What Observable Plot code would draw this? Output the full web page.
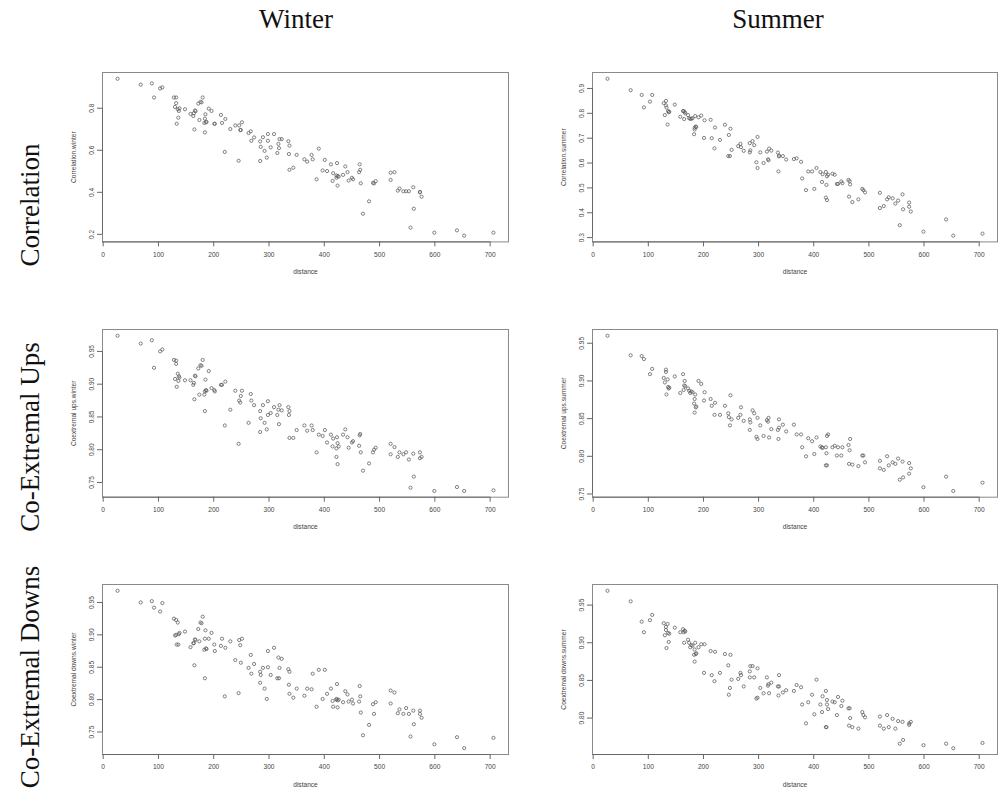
<!DOCTYPE html>
<html><head><meta charset="utf-8">
<script src="https://cdn.jsdelivr.net/npm/d3@7"></script>
<script src="https://cdn.jsdelivr.net/npm/@observablehq/plot@0.6"></script>
<style>
body{margin:0;background:#fff;}
#fig{position:relative;width:1002px;height:803px;overflow:hidden;background:#fff;}
</style></head><body><div id="fig"></div>
<script>
// ---- data ----
const seasons = ["Winter", "Summer"];
const measures = ["Correlation", "Co-Extremal Ups", "Co-Extremal Downs"];
const yLabels = ["Correlation.winter", "Correlation.summer", "Coextremal ups.winter", "Coextremal ups.summer", "Coextremal downs.winter", "Coextremal downs.summer"];
const xTicks = [0, 100, 200, 300, 400, 500, 600, 700];
const corrTicksW = [0.2, 0.4, 0.6, 0.8];
const corrTicksS = [0.3, 0.4, 0.5, 0.6, 0.7, 0.8, 0.9];
const extTicks = [0.75, 0.80, 0.85, 0.90, 0.95];
const extTicksDS = [0.80, 0.85, 0.90, 0.95];

const distance = [26,68,88,92,103,107,128,130,132,132,133,135,136,137,138,148,158,163,164,165,166,167,172,174,176,178,180,183,184,184,185,186,187,191,196,201,202,213,215,220,221,230,239,245,246,248,249,251,263,267,268,273,284,284,285,289,292,296,298,298,303,309,315,317,318,319,323,335,336,337,337,344,350,364,369,377,379,386,390,397,401,405,412,415,416,422,422,423,424,424,426,434,438,442,444,450,452,463,464,465,466,470,481,488,490,493,520,520,527,533,536,543,548,553,556,561,562,573,573,576,599,640,653,706];

const corrWinter = [0.940,0.912,0.918,0.851,0.894,0.899,0.851,0.806,0.851,0.824,
 0.726,0.795,0.755,0.787,0.800,0.795,0.773,0.763,0.776,0.699,
 0.789,0.786,0.822,0.744,0.830,0.828,0.851,0.730,0.750,0.685,
 0.771,0.733,0.735,0.798,0.787,0.726,0.726,0.768,0.730,0.592,
 0.749,0.701,0.718,0.550,0.718,0.696,0.696,0.733,0.682,0.690,
 0.645,0.661,0.549,0.642,0.616,0.662,0.597,0.565,0.645,0.677,
 0.614,0.677,0.587,0.630,0.610,0.653,0.653,0.643,0.582,0.507,
 0.622,0.517,0.578,0.557,0.546,0.578,0.557,0.462,0.608,0.504,
 0.554,0.501,0.533,0.454,0.491,0.480,0.469,0.539,0.477,0.432,
 0.475,0.483,0.523,0.496,0.456,0.469,0.462,0.496,0.533,0.507,
 0.443,0.298,0.357,0.445,0.442,0.453,0.493,0.459,0.496,0.408,
 0.418,0.405,0.405,0.405,0.232,0.424,0.322,0.402,0.400,0.379,
 0.208,0.219,0.194,0.208];

const corrSummer = [0.939,0.893,0.874,0.824,0.847,0.874,0.841,0.793,0.850,0.832,
 0.823,0.755,0.809,0.804,0.806,0.835,0.786,0.809,0.809,0.777,
 0.805,0.800,0.793,0.780,0.778,0.778,0.780,0.716,0.735,0.742,
 0.789,0.747,0.745,0.784,0.791,0.701,0.772,0.774,0.700,0.659,
 0.743,0.693,0.754,0.628,0.713,0.628,0.738,0.653,0.668,0.677,
 0.664,0.649,0.643,0.680,0.651,0.688,0.672,0.603,0.580,0.705,
 0.643,0.600,0.646,0.615,0.611,0.658,0.650,0.642,0.566,0.627,
 0.630,0.628,0.614,0.616,0.619,0.605,0.538,0.491,0.566,0.566,
 0.496,0.580,0.564,0.524,0.555,0.564,0.461,0.512,0.547,0.451,
 0.553,0.557,0.553,0.516,0.516,0.526,0.519,0.532,0.465,0.527,
 0.514,0.443,0.454,0.496,0.491,0.482,0.480,0.419,0.427,0.454,
 0.462,0.458,0.437,0.449,0.350,0.474,0.414,0.441,0.424,0.405,
 0.324,0.373,0.308,0.316];

const upsWinter = [0.974,0.962,0.967,0.925,0.950,0.953,0.937,0.908,0.936,0.931,
 0.896,0.916,0.905,0.912,0.910,0.906,0.906,0.899,0.902,0.877,
 0.913,0.912,0.924,0.884,0.929,0.928,0.937,0.884,0.889,0.859,
 0.907,0.891,0.890,0.920,0.894,0.891,0.889,0.899,0.899,0.837,
 0.904,0.861,0.890,0.809,0.875,0.872,0.882,0.890,0.841,0.885,
 0.875,0.868,0.827,0.859,0.848,0.868,0.841,0.831,0.853,0.874,
 0.856,0.865,0.853,0.861,0.839,0.868,0.860,0.865,0.853,0.818,
 0.859,0.818,0.830,0.837,0.829,0.837,0.830,0.796,0.823,0.821,
 0.830,0.811,0.823,0.805,0.817,0.802,0.789,0.819,0.810,0.778,
 0.805,0.823,0.831,0.819,0.803,0.811,0.813,0.806,0.822,0.824,
 0.796,0.768,0.779,0.796,0.800,0.803,0.809,0.793,0.804,0.789,
 0.796,0.793,0.796,0.785,0.742,0.794,0.759,0.796,0.787,0.789,
 0.737,0.743,0.737,0.738];

const upsSummer = [0.960,0.934,0.933,0.929,0.909,0.916,0.904,0.898,0.915,0.912,
 0.882,0.902,0.892,0.890,0.891,0.906,0.884,0.909,0.888,0.894,
 0.900,0.893,0.890,0.887,0.884,0.886,0.885,0.870,0.858,0.876,
 0.882,0.865,0.866,0.900,0.896,0.874,0.885,0.876,0.867,0.855,
 0.871,0.855,0.867,0.857,0.852,0.841,0.881,0.849,0.851,0.855,
 0.865,0.847,0.835,0.849,0.845,0.861,0.857,0.826,0.851,0.823,
 0.841,0.827,0.848,0.846,0.851,0.825,0.836,0.835,0.823,0.849,
 0.838,0.842,0.833,0.842,0.829,0.829,0.812,0.800,0.824,0.820,
 0.803,0.825,0.813,0.812,0.811,0.812,0.788,0.804,0.827,0.788,
 0.829,0.812,0.814,0.801,0.812,0.801,0.812,0.815,0.790,0.808,
 0.823,0.789,0.787,0.801,0.801,0.792,0.794,0.784,0.782,0.800,
 0.788,0.792,0.790,0.797,0.769,0.793,0.772,0.791,0.777,0.784,
 0.759,0.773,0.754,0.765];

const downsWinter = [0.968,0.950,0.952,0.942,0.936,0.949,0.925,0.899,0.923,0.900,
 0.885,0.919,0.885,0.901,0.903,0.905,0.881,0.887,0.887,0.853,
 0.893,0.892,0.909,0.890,0.919,0.918,0.928,0.877,0.894,0.833,
 0.907,0.879,0.878,0.894,0.903,0.885,0.875,0.883,0.894,0.805,
 0.880,0.890,0.861,0.810,0.892,0.884,0.857,0.894,0.849,0.869,
 0.840,0.855,0.826,0.843,0.838,0.849,0.817,0.801,0.850,0.875,
 0.838,0.880,0.833,0.865,0.833,0.849,0.863,0.847,0.823,0.809,
 0.843,0.803,0.817,0.806,0.817,0.816,0.840,0.789,0.846,0.801,
 0.846,0.809,0.817,0.798,0.789,0.800,0.801,0.824,0.799,0.788,
 0.800,0.796,0.813,0.808,0.797,0.800,0.794,0.797,0.821,0.805,
 0.780,0.745,0.761,0.793,0.778,0.796,0.814,0.794,0.811,0.779,
 0.785,0.778,0.787,0.778,0.743,0.783,0.762,0.783,0.778,0.772,
 0.731,0.742,0.725,0.741];

const downsSummer = [0.969,0.955,0.928,0.914,0.930,0.937,0.926,0.910,0.921,0.917,
 0.893,0.925,0.913,0.901,0.912,0.920,0.914,0.918,0.914,0.900,
 0.916,0.915,0.904,0.900,0.894,0.897,0.896,0.884,0.875,0.891,
 0.900,0.885,0.886,0.894,0.898,0.860,0.898,0.889,0.857,0.849,
 0.888,0.860,0.885,0.870,0.831,0.840,0.884,0.851,0.852,0.860,
 0.857,0.842,0.862,0.854,0.869,0.869,0.854,0.826,0.827,0.866,
 0.840,0.833,0.854,0.843,0.845,0.833,0.847,0.842,0.830,0.842,
 0.857,0.834,0.837,0.836,0.844,0.841,0.818,0.793,0.821,0.831,
 0.805,0.851,0.818,0.808,0.829,0.836,0.788,0.788,0.824,0.818,
 0.812,0.822,0.821,0.804,0.828,0.816,0.823,0.813,0.790,0.813,
 0.800,0.788,0.786,0.808,0.804,0.801,0.802,0.790,0.786,0.804,
 0.788,0.799,0.786,0.796,0.766,0.795,0.771,0.791,0.793,0.795,
 0.764,0.766,0.760,0.767];

// ---- layout ----
const fig = document.getElementById("fig");
const colLeft = [102, 592];
const colWidth = [406, 405];
const rowTop = [72.3, 329, 584.3];
const rowHeight = [169.4, 167.7, 170];
const panels = [
  {values: corrWinter, label: yLabels[0], ticks: corrTicksW, fmt: ".1f", col: 0, row: 0},
  {values: corrSummer, label: yLabels[1], ticks: corrTicksS, fmt: ".1f", col: 1, row: 0},
  {values: upsWinter, label: yLabels[2], ticks: extTicks, fmt: ".2f", col: 0, row: 1},
  {values: upsSummer, label: yLabels[3], ticks: extTicks, fmt: ".2f", col: 1, row: 1},
  {values: downsWinter, label: yLabels[4], ticks: extTicks, fmt: ".2f", col: 0, row: 2},
  {values: downsSummer, label: yLabels[5], ticks: extTicksDS, fmt: ".2f", col: 1, row: 2}
];

const pad4 = ([a, b]) => [a - (b - a) * 0.04, b + (b - a) * 0.04];
const xDomain = pad4(d3.extent(distance));
const mL = 52, mR = 4, mT = 8, mB = 40;
const axisColor = "#666", textColor = "#444", fs = 6.6;

for (const p of panels) {
  const data = distance.map((d, i) => ({distance: d, value: p.values[i]}));
  const yDomain = pad4(d3.extent(p.values));
  const fmt = d3.format(p.fmt);
  const w = colWidth[p.col], h = rowHeight[p.row];
  const chart = Plot.plot({
    width: mL + w + mR, height: mT + h + mB,
    marginLeft: mL, marginRight: mR, marginTop: mT, marginBottom: mB,
    style: {background: "transparent", fontFamily: "'Liberation Sans', Arial, sans-serif", overflow: "visible"},
    x: {domain: xDomain},
    y: {domain: yDomain},
    marks: [
      Plot.frame({stroke: "#8a8a8a", strokeWidth: 1}),
      Plot.ruleY([yDomain[0]], {x1: () => xTicks[0], x2: () => xTicks[xTicks.length - 1], stroke: axisColor}),
      Plot.ruleX([xDomain[0]], {y1: () => p.ticks[0], y2: () => p.ticks[p.ticks.length - 1], stroke: axisColor}),
      Plot.axisX({ticks: xTicks, tickSize: 5, tickPadding: 5, fontSize: fs, label: null, stroke: axisColor, fill: textColor, tickFormat: d3.format("d")}),
      Plot.axisY({ticks: p.ticks, tickSize: 5, tickFormat: () => "", label: null, stroke: axisColor}),
      Plot.text(p.ticks, {y: d => d, text: d => fmt(d), frameAnchor: "left", dx: -9, rotate: -90, textAnchor: "middle", lineAnchor: "bottom", fontSize: fs, fill: textColor}),
      Plot.text([p.label], {text: d => d, frameAnchor: "left", dx: -26.5, rotate: -90, textAnchor: "middle", lineAnchor: "bottom", fontSize: fs, fill: textColor}),
      Plot.text(["distance"], {text: d => d, frameAnchor: "bottom", dy: 32, lineAnchor: "bottom", fontSize: fs, fill: textColor}),
      Plot.dot(data, {x: "distance", y: "value", r: 1.6, stroke: "#5a5a5a", strokeWidth: 0.75, fill: "none"})
    ]
  });
  chart.style.position = "absolute";
  chart.style.left = (colLeft[p.col] - mL) + "px";
  chart.style.top = (rowTop[p.row] - mT) + "px";
  fig.appendChild(chart);
}

// ---- titles ----
const svg = d3.select(fig).append("svg")
  .attr("width", 1002).attr("height", 803)
  .style("position", "absolute").style("left", 0).style("top", 0)
  .style("pointer-events", "none");
const titleFont = "'Liberation Serif', 'DejaVu Serif', serif";
const colCenters = [296, 778];
seasons.forEach((s, i) => {
  svg.append("text").attr("x", colCenters[i]).attr("y", 27.7)
    .attr("text-anchor", "middle").attr("font-family", titleFont).attr("font-size", 27)
    .attr("fill", "#111").text(s);
});
const rowCenters = [205, 437, 677];
measures.forEach((m, i) => {
  svg.append("text").attr("transform", `translate(39,${rowCenters[i]}) rotate(-90)`)
    .attr("text-anchor", "middle").attr("font-family", titleFont).attr("font-size", 27)
    .attr("fill", "#111").text(m);
});
</script></body></html>
